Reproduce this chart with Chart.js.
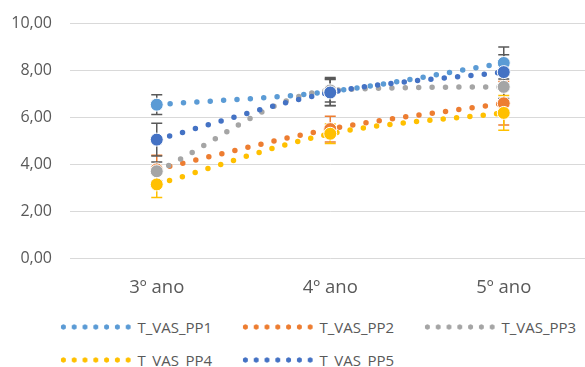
<!DOCTYPE html>
<html>
<head>
<meta charset="utf-8">
<script src="https://cdn.jsdelivr.net/npm/chart.js@4.4.1/dist/chart.umd.min.js"></script>
<style>
  body { margin: 0; background: #fff; overflow: hidden; width: 585px; height: 367px; position: relative; font-family: "Open Sans", sans-serif; }
  #wrap { position: absolute; left: 0; top: -4px; width: 598px; height: 309px; }
  .leg { position: absolute; height: 20px; display: flex; align-items: center; color: #595959; font-size: 15px; white-space: nowrap; }
  .leg .dots { width: 75.6px; height: 6px; margin-right: 4px; background-size: 10.8px 6px; background-repeat: repeat-x; }
</style>
</head>
<body>
<div id="wrap"><canvas id="grafico" width="598" height="309"></canvas></div>
<div id="legenda"></div>
<script>
// * dados
const categorias = ["3º ano", "4º ano", "5º ano"];
const nomes = ["T_VAS_PP1", "T_VAS_PP2", "T_VAS_PP3", "T_VAS_PP4", "T_VAS_PP5"];
const cores = ["#5B9BD5", "#ED7D31", "#A5A5A5", "#FFC000", "#4472C4"];

const pp1 = [6.54, 7.1, 8.32];
const pp2 = [3.78, 5.5, 6.6];
const pp3 = [3.7, 7.15, 7.3];
const pp4 = [3.14, 5.3, 6.19];
const pp5 = [5.05, 7.06, 7.93];

// desvio (barras de erro)
const erro1 = [0.42, 0.6, 0.68];
const erro2 = [0.6, 0.55, 0.93];
const erro3 = [0.4, 0.5, 0.5];
const erro4 = [0.56, 0.42, 0.74];
const erro5 = [0.7, 0.55, 0.74];

const corErro = ["#595959", "#ED7D31", "#595959", "#FFC000", "#595959"];

const valores = [pp1, pp2, pp3, pp4, pp5];
const erros = [erro1, erro2, erro3, erro4, erro5];

// ? plugin para barras de erro
const barrasErro = {
  id: "barrasErro",
  beforeDatasetsDraw(chart) {
    const ctx = chart.ctx;
    const x = chart.scales.x;
    const y = chart.scales.y;
    ctx.save();
    ctx.lineWidth = 1.5;
    valores.forEach((serie, s) => {
      ctx.strokeStyle = corErro[s];
      serie.forEach((v, i) => {
        const px = x.getPixelForValue(i);
        const topo = y.getPixelForValue(v + erros[s][i]);
        const base = y.getPixelForValue(v - erros[s][i]);
        ctx.beginPath();
        ctx.moveTo(px, topo);
        ctx.lineTo(px, base);
        ctx.moveTo(px - 5.5, topo);
        ctx.lineTo(px + 5.5, topo);
        ctx.moveTo(px - 5.5, base);
        ctx.lineTo(px + 5.5, base);
        ctx.stroke();
      });
    });
    ctx.restore();
  },
};

let datasets = [];
valores.forEach((serie, s) => {
  // linha de tendencia pontilhada
  datasets.push({
    label: nomes[s],
    data: serie,
    borderColor: cores[s],
    borderWidth: 5.5,
    borderDash: [0, 13.4],
    borderCapStyle: "round",
    pointRadius: 0,
    cubicInterpolationMode: "monotone",
    fill: false,
    order: 20 - s,
  });
  // marcadores
  datasets.push({
    label: nomes[s] + "_m",
    data: serie,
    showLine: false,
    pointRadius: 6.5,
    pointBackgroundColor: cores[s],
    pointBorderColor: "#ffffff",
    pointBorderWidth: 1,
    order: 10 - s,
  });
});

const grafico = new Chart(document.getElementById("grafico").getContext("2d"), {
  type: "line",
  data: { labels: categorias, datasets: datasets },
  options: {
    responsive: false,
    animation: false,
    devicePixelRatio: 1,
    layout: { padding: { top: 16, right: 0, left: 0, bottom: 0 } },
    plugins: { legend: { display: false }, tooltip: { enabled: false } },
    scales: {
      x: {
        offset: true,
        grid: { display: false, drawTicks: false },
        border: { display: false },
        ticks: { color: "#595959", font: { family: "Open Sans", size: 18.5 }, padding: 19 },
        afterFit: (scale) => { scale.height = 47; },
      },
      y: {
        min: 0,
        max: 10,
        grid: { color: "#D9D9D9", lineWidth: 1, drawTicks: false },
        border: { display: false },
        ticks: {
          stepSize: 2,
          color: "#595959",
          font: { family: "Open Sans", size: 16 },
          padding: 18,
          callback: (v) => v.toFixed(2).replace(".", ","),
        },
        afterFit: (scale) => { scale.width = 70; },
      },
    },
  },
  plugins: [barrasErro],
});

// legenda em html
const legenda = document.getElementById("legenda");
nomes.forEach((n, i) => {
  const col = i % 3;
  const lin = Math.floor(i / 3);
  const item = document.createElement("div");
  item.className = "leg";
  item.style.left = 57.9 + col * 182 + "px";
  item.style.top = 317 + lin * 33 + "px";
  const dots = document.createElement("span");
  dots.className = "dots";
  dots.style.backgroundImage = "radial-gradient(circle at center, " + cores[i] + " 2.3px, transparent 2.9px)";
  const txt = document.createElement("span");
  txt.textContent = n;
  item.appendChild(dots);
  item.appendChild(txt);
  legenda.appendChild(item);
});
</script>
</body>
</html>
